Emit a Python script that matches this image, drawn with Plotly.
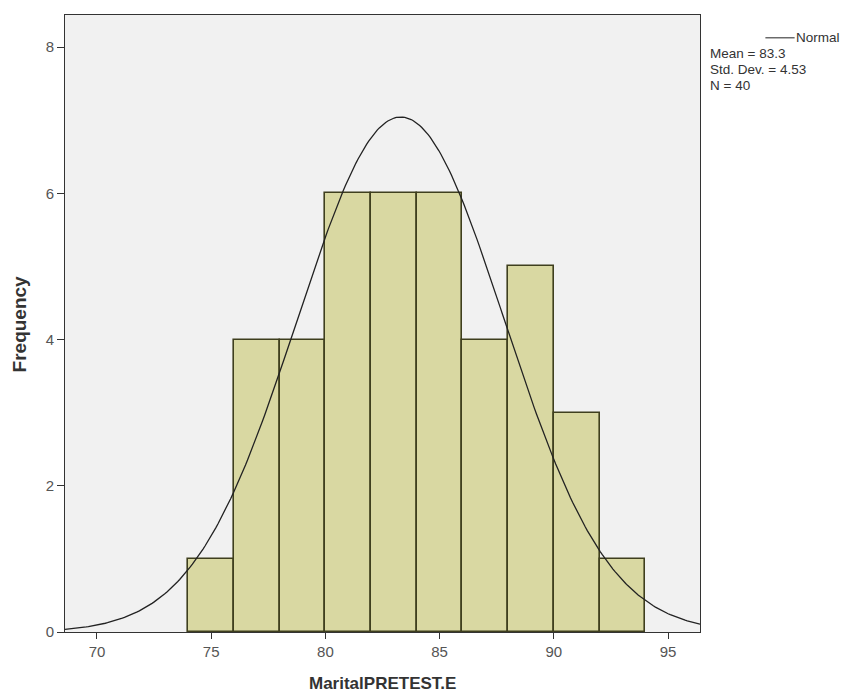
import numpy as np
import plotly.graph_objects as go

bin_starts = [74, 76, 78, 80, 82, 84, 86, 88, 90, 92]
counts = [1, 4, 4, 6, 6, 6, 4, 5, 3, 1]
bin_width = 2
mean_val = 83.3
std_val = 4.53
n_val = 40
x_ticks = [70, 75, 80, 85, 90, 95]
y_ticks = [0, 2, 4, 6, 8]

fig = go.Figure()
fig.add_trace(go.Bar(
    x=[s + bin_width / 2 for s in bin_starts], y=counts, width=bin_width,
    marker=dict(color="#D9D8A2", line=dict(color="#3F3F1E", width=1.6)),
    showlegend=False,
))

# Normal curve from the parameters stated in the legend
xs = np.linspace(68.6, 96.4, 300)
ys = n_val * bin_width / (std_val * np.sqrt(2 * np.pi)) * np.exp(-0.5 * ((xs - mean_val) / std_val) ** 2)
fig.add_trace(go.Scatter(x=xs, y=ys, mode="lines", line=dict(color="#222222", width=1.3),
                         showlegend=False, hoverinfo="skip"))

fig.update_layout(
    width=845, height=685,
    margin=dict(l=57, r=153, t=7, b=61),
    paper_bgcolor="white", plot_bgcolor="#F1F1F1",
    font=dict(family="Liberation Sans, Arial, sans-serif", color="#555555", size=15),
    bargap=0,
    xaxis=dict(range=[68.6, 96.4], tickvals=x_ticks, ticks="outside", ticklen=6,
               tickcolor="#333333", showgrid=False, zeroline=False,
               showline=True, linecolor="#333333", mirror=True, linewidth=1,
               tickfont=dict(size=15)),
    yaxis=dict(range=[0, 8.44], tickvals=y_ticks, ticks="outside", ticklen=7,
               tickcolor="#333333", showgrid=False, zeroline=False,
               showline=True, linecolor="#333333", mirror=True, linewidth=1,
               tickfont=dict(size=15)),
)

# axis titles
fig.add_annotation(xref="paper", yref="paper", x=0.5, y=-0.083, xanchor="center", yanchor="middle",
                   text="<b>MaritalPRETEST.E</b>", showarrow=False,
                   font=dict(size=17, color="#333333"))
fig.add_annotation(xref="paper", yref="paper", x=-0.071, y=0.5, xanchor="center", yanchor="middle",
                   text="<b>Frequency</b>", textangle=-90, showarrow=False,
                   font=dict(size=19, color="#333333"))

# legend block
fig.add_shape(type="line", xref="paper", yref="paper",
              x0=1.103, x1=1.149, y0=0.963, y1=0.963, line=dict(color="#222222", width=1))
fig.add_annotation(xref="paper", yref="paper", x=1.149, y=0.963, xanchor="left", yanchor="middle",
                   text="Normal", showarrow=False, borderpad=0,
                   font=dict(size=13.5, color="#333333"))
stats_lines = [f"Mean = {mean_val}", f"Std. Dev. = {std_val}", f"N = {n_val}"]
for i, line in enumerate(stats_lines):
    fig.add_annotation(xref="paper", yref="paper", x=1.014, y=0.937 - i * 0.026,
                       xanchor="left", yanchor="middle", showarrow=False, text=line,
                       borderpad=0, font=dict(size=13.5, color="#333333"))

fig.write_html("out.html")
